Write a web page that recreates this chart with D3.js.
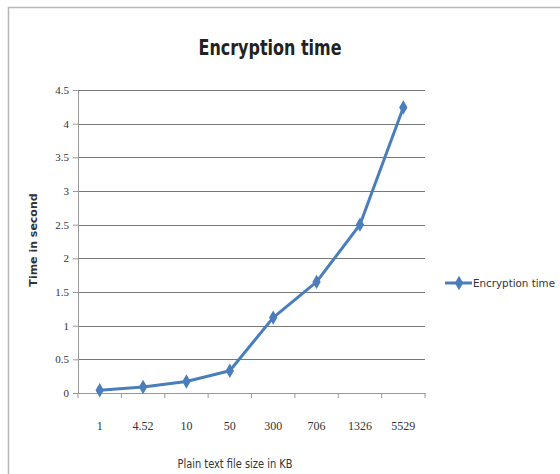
<!DOCTYPE html>
<html><head><meta charset="utf-8">
<script src="https://cdn.jsdelivr.net/npm/d3@7"></script>
<style>body{margin:0;background:#fff}svg{display:block}</style>
</head><body>
<svg id="c" width="560" height="474"></svg>
<script>
const categories = ["1","4.52","10","50","300","706","1326","5529"];
const encryptionTime = [0.04,0.09,0.17,0.33,1.12,1.65,2.5,4.24];
const yTicks = [0,0.5,1,1.5,2,2.5,3,3.5,4,4.5];
const yTickLabels = ["0","0.5","1","1.5","2","2.5","3","3.5","4","4.5"];
const title = "Encryption time";
const seriesName = "Encryption time";
const xTitle = "Plain text file size in KB";
const yTitle = "Time in second";

const svg = d3.select("#c");
const m = {l:78, r:425, t:90, b:393};
const x = d3.scaleBand().domain(categories).range([m.l, m.r]);
const y = d3.scaleLinear().domain([0,4.5]).range([m.b, m.t]);
const blue = "#4a7ebb";
const narrow = "'DejaVu Sans Condensed','DejaVu Sans',sans-serif";
const serif = "'Liberation Serif','DejaVu Serif',serif";

// frame
svg.append("path").attr("d","M8.5,474 L8.5,7.5 L560,7.5").attr("fill","none").attr("stroke","#b8b8b8").attr("stroke-width",1.5);

// gridlines
svg.append("g").selectAll("line").data(yTicks.filter(d=>d>0)).join("line")
  .attr("x1",m.l).attr("x2",m.r).attr("y1",d=>Math.round(y(d))+0.5).attr("y2",d=>Math.round(y(d))+0.5)
  .attr("stroke","#777").attr("stroke-width",1.2);

// y axis
const ya = svg.append("g").attr("transform",`translate(${m.l},0)`)
  .call(d3.axisLeft(y).tickValues(yTicks).tickFormat((d,i)=>yTickLabels[i]).tickSize(5).tickPadding(4));
ya.select(".domain").attr("stroke","#999");
ya.selectAll(".tick line").attr("stroke","#999");
ya.selectAll("text").attr("font-family",serif).attr("font-size",11).attr("fill","#333");

// x axis
const xa = svg.append("g").attr("transform",`translate(0,${m.b})`)
  .call(d3.axisBottom(x).tickSize(0).tickPadding(28));
xa.select(".domain").attr("stroke","#999").attr("stroke-width",1.2);
xa.selectAll("text").attr("font-family",serif).attr("font-size",12).attr("fill","#333");
const bounds = categories.map(c=>x(c)).concat([m.r]);
svg.append("g").selectAll("line").data(bounds).join("line")
  .attr("x1",d=>d).attr("x2",d=>d).attr("y1",m.b).attr("y2",m.b+5).attr("stroke","#999");

// line
const line = d3.line().x((d,i)=>x(categories[i])+x.bandwidth()/2).y(d=>y(d));
svg.append("path").datum(encryptionTime).attr("d",line).attr("fill","none")
  .attr("stroke",blue).attr("stroke-width",3).attr("stroke-linejoin","round");
const diamond = d3.symbol().type(d3.symbolDiamond).size(60);
svg.append("g").selectAll("path").data(encryptionTime).join("path")
  .attr("d",diamond).attr("fill",blue)
  .attr("transform",(d,i)=>`translate(${x(categories[i])+x.bandwidth()/2},${y(d)})`);

// title
svg.append("text").attr("x",270).attr("y",55).attr("text-anchor","middle")
  .attr("font-family",narrow).attr("font-weight","bold").attr("font-size",22).attr("fill","#222")
  .attr("textLength",143).attr("lengthAdjust","spacingAndGlyphs").text(title);

// y title
svg.append("text").attr("transform","translate(37,240) rotate(-90)").attr("text-anchor","middle")
  .attr("font-family","'DejaVu Sans',sans-serif").attr("font-weight","bold").attr("font-size",11).attr("fill","#333").text(yTitle);

// x title
svg.append("text").attr("x",235).attr("y",468).attr("text-anchor","middle")
  .attr("font-family",narrow).attr("font-size",12).attr("fill","#333")
  .attr("textLength",115).attr("lengthAdjust","spacingAndGlyphs").text(xTitle);

// legend
const lg = svg.append("g").attr("transform","translate(445,283)");
lg.append("line").attr("x1",0).attr("x2",27).attr("stroke",blue).attr("stroke-width",3);
lg.append("path").attr("d",diamond).attr("fill",blue).attr("transform","translate(14,0)");
lg.append("text").attr("x",28).attr("y",4).attr("font-family",narrow).attr("font-size",11).attr("fill","#333")
  .attr("textLength",82).attr("lengthAdjust","spacingAndGlyphs").text(seriesName);
</script>
</body></html>
